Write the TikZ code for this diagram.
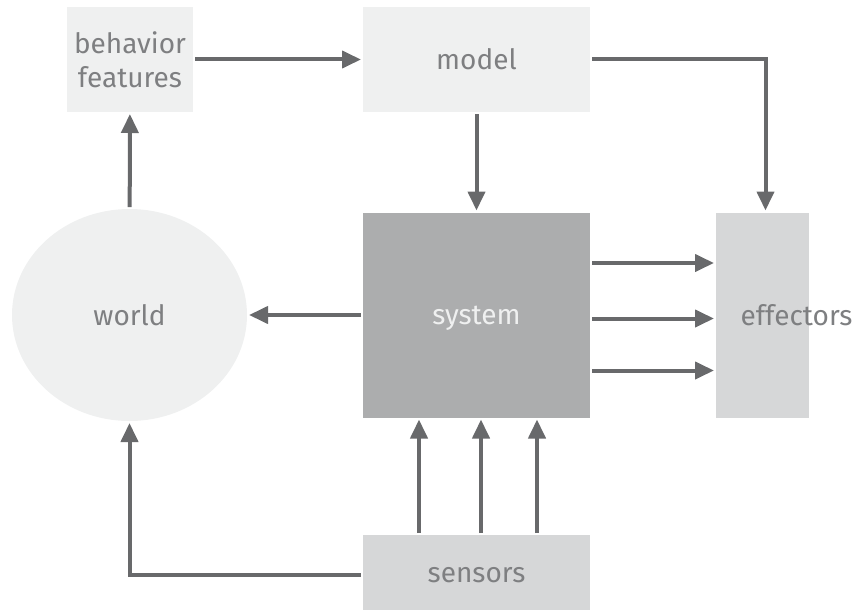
\documentclass[tikz,border=0pt]{standalone}
\usepackage{fontspec}
\setmainfont{Fira Sans}
\usetikzlibrary{arrows.meta,shapes.geometric}
\definecolor{boxlight}{HTML}{EFF0F0}
\definecolor{boxmid}{HTML}{D6D7D8}
\definecolor{boxdark}{HTML}{ACADAE}
\definecolor{arrowgrey}{HTML}{68696B}
\definecolor{textgrey}{HTML}{7E7F81}
\begin{document}
\begin{tikzpicture}[x=1pt,y=-1pt,line width=4pt,draw=arrowgrey,
	>={Triangle[length=19pt,width=17pt]},font=\fontsize{28}{34}\selectfont]
	\def \toprow{59.5}
	\def \midrow{315}
	\def \botrow{575}
	\tikzstyle{b-node}=[rectangle,fill=boxlight,text=textgrey,inner sep=0pt,align=center]
	\tikzstyle{s-node}=[rectangle,fill=boxmid,text=textgrey,inner sep=0pt]
	\tikzstyle{w-node}=[ellipse,fill=boxlight,text=textgrey,inner sep=0pt]
	\useasboundingbox (0,0) rectangle (857,610);
	% top row
	\node[b-node,minimum width=126pt,minimum height=105pt] (feat) at (130,\toprow) {behavior\\features};
	\node[b-node,minimum width=227pt,minimum height=105pt] (model) at (476.5,\toprow) {model};
	
	% middle row
	\node[w-node,minimum width=235pt,minimum height=212pt] (world) at (129.5,\midrow) {world};
	\node[s-node,fill=boxdark,text=boxlight,minimum width=227pt,minimum height=205pt,
		text depth=0pt] (sys) at (476.5,\midrow) {system};
	\node[s-node,minimum width=93pt,minimum height=205pt,
		label={[text=textgrey,xshift=34pt]center:effectors}] (eff) at (762.5,\midrow) {};
	
	% bottom row
	\node[s-node,minimum width=227pt,minimum height=80pt] (sens) at (476.5,\botrow) {sensors};
	
	\path[->]
		(feat)	edge	(model)
		(model)	edge	(sys)
		(world)	edge	(feat)
		(sys)	edge	(world)
		%
		([yshift=52pt]sys.east)		edge	([yshift=52pt]eff.west)
		([yshift=-3.5pt]sys.east)	edge	([yshift=-3.5pt]eff.west)
		([yshift=-55.5pt]sys.east)	edge	([yshift=-55.5pt]eff.west)
		%
		([xshift=-57.5pt]sens.north)	edge	([xshift=-57.5pt]sys.south)
		([xshift=4.5pt]sens.north)	edge	([xshift=4.5pt]sys.south)
		([xshift=60.5pt]sens.north)	edge	([xshift=60.5pt]sys.south);
	\draw[->] (model.east) -| ([xshift=3pt]eff.north);
	\draw[->] (sens.west) -| (world.south);
\end{tikzpicture}
\end{document}
